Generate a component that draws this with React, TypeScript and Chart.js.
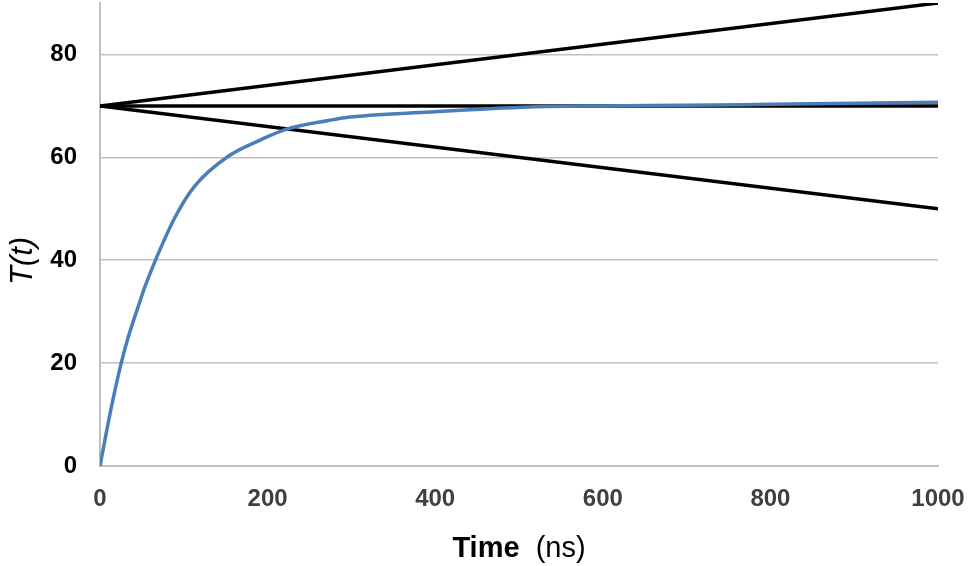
import React, { useEffect, useRef } from "react";
import { Chart, registerables } from "chart.js";

Chart.register(...registerables);

// Time (ns) samples of the measured curve
const curveTime = [0, 12, 25, 34, 46, 54, 68, 90, 113, 153, 193, 221, 274, 292, 394, 513, 600, 700, 800, 900, 1000];
const curveValue = [0, 10.2, 19.8, 25.2, 31.2, 35, 40.7, 48.5, 54.4, 60.2, 63.5, 65.4, 67.2, 67.7, 68.8, 69.8, 70, 70.1, 70.3, 70.5, 70.7];

// Reference straight lines: [start, end] at t = 0 and t = 1000
const lineTime = [0, 1000];
const upperLine = [70, 90];
const middleLine = [70, 70];
const lowerLine = [70, 50];

const xTicks = [0, 200, 400, 600, 800, 1000];
const yTicks = [0, 20, 40, 60, 80];

const xTitleBold = "Time";
const xTitleUnit = "(ns)";
const yTitle = "T(t)";

const toXY = (xs: number[], ys: number[]) => xs.map((x, i) => ({ x, y: ys[i] }));

const titlePlugin = {
  id: "customTitles",
  afterDraw(chart: any) {
    const { ctx, chartArea } = chart;
    ctx.save();
    ctx.fillStyle = "#000";
    ctx.textBaseline = "alphabetic";
    ctx.textAlign = "left";
    const boldFont = "bold 29px 'Liberation Sans', Arial, sans-serif";
    const regFont = "29px 'Liberation Sans', Arial, sans-serif";
    ctx.font = boldFont;
    const w1 = ctx.measureText(xTitleBold).width;
    ctx.font = regFont;
    const gap = ctx.measureText("  ").width;
    const w2 = ctx.measureText(xTitleUnit).width;
    const total = w1 + gap + w2;
    const cx = (chartArea.left + chartArea.right) / 2;
    const x0 = cx - total / 2;
    ctx.font = boldFont;
    ctx.fillText(xTitleBold, x0, 557);
    ctx.font = regFont;
    ctx.fillText(xTitleUnit, x0 + w1 + gap, 557);
    ctx.translate(32, 261);
    ctx.rotate(-Math.PI / 2);
    ctx.textAlign = "center";
    ctx.font = "italic 31px 'Liberation Sans', Arial, sans-serif";
    ctx.fillText(yTitle, 0, 0);
    ctx.restore();
  },
};

const tickFont = { family: "'Liberation Sans', Arial, sans-serif", size: 24, weight: "bold" };

export default function App() {
  const ref = useRef<HTMLCanvasElement | null>(null);

  useEffect(() => {
    if (!ref.current) return;
    const lineSet = (label: string, ys: number[]) => ({
      label,
      data: toXY(lineTime, ys),
      showLine: true,
      borderColor: "#000",
      borderWidth: 3.5,
      pointRadius: 0,
      order: 1,
    });
    const chart = new Chart(ref.current, {
      type: "scatter",
      data: {
        datasets: [
          {
            label: "T(t)",
            data: toXY(curveTime, curveValue),
            showLine: true,
            borderColor: "#4a7ebb",
            borderWidth: 3.5,
            pointRadius: 0,
            cubicInterpolationMode: "monotone",
            order: 0,
          },
          lineSet("upper", upperLine),
          lineSet("middle", middleLine),
          lineSet("lower", lowerLine),
        ],
      },
      options: {
        animation: false,
        responsive: false,
        devicePixelRatio: 1,
        layout: { padding: { left: 0, right: 31, top: 3, bottom: 0 } },
        plugins: {
          legend: { display: false },
          tooltip: { enabled: false },
        },
        scales: {
          x: {
            type: "linear",
            min: 0,
            max: 1000,
            afterBuildTicks: (s: any) => {
              s.ticks = xTicks.map((v) => ({ value: v }));
            },
            afterFit: (s: any) => {
              s.height = 100;
              s.paddingLeft = 0;
              s.paddingRight = 0;
              s.paddingTop = 0;
              s.paddingBottom = 0;
            },
            grid: { display: false, drawTicks: false },
            border: { display: true, color: "#bfbfbf", width: 2 },
            ticks: {
              color: "#404040",
              padding: 19,
              maxRotation: 0,
              callback: (v: any) => String(v),
              font: tickFont,
            },
          },
          y: {
            type: "linear",
            min: 0,
            max: 90,
            afterBuildTicks: (s: any) => {
              s.ticks = yTicks.map((v) => ({ value: v }));
            },
            afterFit: (s: any) => {
              s.width = 100;
              s.paddingLeft = 0;
              s.paddingRight = 0;
              s.paddingTop = 0;
              s.paddingBottom = 0;
            },
            grid: { color: "#c0c0c0", lineWidth: 1.5, drawTicks: false },
            border: { display: true, color: "#bfbfbf", width: 2 },
            ticks: {
              color: "#000",
              padding: 23,
              callback: (v: any) => String(v),
              font: tickFont,
            },
          },
        },
      },
      plugins: [titlePlugin],
    } as any);
    return () => chart.destroy();
  }, []);

  return (
    <div style={{ position: "fixed", left: 0, top: 0, width: 969, height: 566, background: "#fff" }}>
      <canvas ref={ref} width={969} height={566} style={{ width: 969, height: 566, display: "block" }} />
    </div>
  );
}
